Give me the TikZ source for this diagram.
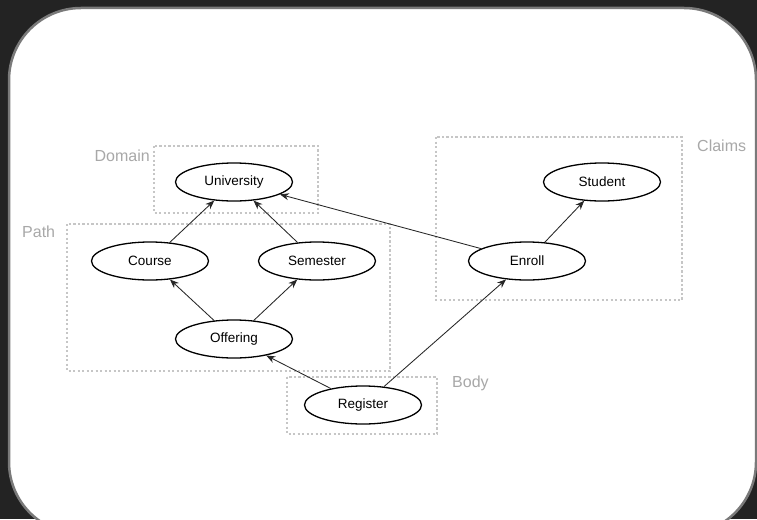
\documentclass[tikz,border=0pt]{standalone}
\usepackage{fontspec}
\setmainfont{Liberation Sans}
\usetikzlibrary{shapes.geometric,arrows.meta}
\definecolor{bgdark}{HTML}{232323}
\definecolor{frame}{HTML}{7A7A7A}
\definecolor{dotc}{HTML}{C6C6C6}
\definecolor{lblc}{HTML}{A8A8A8}
\tikzset{
  ent/.style={draw=black, line width=1.3pt, ellipse, minimum width=117pt, minimum height=38pt, inner sep=0pt, font=\fontsize{13.5}{15}\selectfont},
  grp/.style={draw=dotc, line width=2.6pt, dash pattern=on 2.4pt off 2.1pt},
  lbl/.style={text=lblc, font=\fontsize{16}{18}\selectfont, inner sep=0pt},
  arr/.style={-{Stealth[length=9pt,width=7pt]}, line width=0.85pt, draw=black!85}
}
\begin{document}
\begin{tikzpicture}[x=1pt,y=-1pt]
\useasboundingbox (0,0) rectangle (757,519);
\fill[bgdark] (0,0) rectangle (757,519);
\draw[frame, line width=2.5pt, fill=white, rounded corners=72pt] (9,8) rectangle (756,534);
% groups
\draw[grp] (154,146) rectangle (318,213);
\draw[grp] (67,224) rectangle (390,371);
\draw[grp] (436,137) rectangle (682,300);
\draw[grp] (287,377) rectangle (437,434);
\node[lbl, anchor=east] (ldomain) at (150,156) {Domain};
\node[lbl, anchor=west] (lpath) at (22,232) {Path};
\node[lbl, anchor=west] (lclaims) at (697,146) {Claims};
\node[lbl, anchor=west] (lbody) at (452,383) {Body};
% entities
\node[ent] (univ) at (234,182) {University};
\node[ent] (course) at (150,261) {Course};
\node[ent] (sem) at (317,261) {Semester};
\node[ent] (off) at (234,339) {Offering};
\node[ent] (reg) at (363,405) {Register};
\node[ent] (enroll) at (527,261) {Enroll};
\node[ent] (student) at (602,182) {Student};
% connectors
\draw[arr] (course) -- (univ);
\draw[arr] (sem) -- (univ);
\draw[arr] (off) -- (course);
\draw[arr] (off) -- (sem);
\draw[arr] (reg) -- (off);
\draw[arr] (reg) -- (enroll);
\draw[arr] (enroll) -- (student);
\draw[arr] (enroll) -- (univ);
\end{tikzpicture}
\end{document}
